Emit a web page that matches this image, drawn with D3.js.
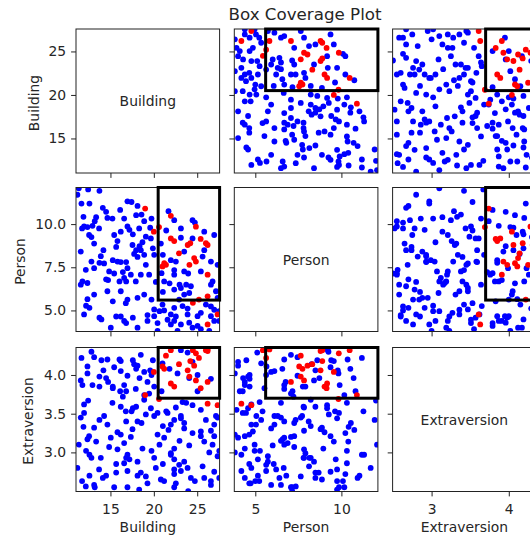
<!DOCTYPE html>
<html>
<head>
<meta charset="utf-8">
<script src="https://cdn.jsdelivr.net/npm/d3@7"></script>
<style>
  html, body { margin: 0; padding: 0; background: #fff; }
  svg { display: block; font-family: "DejaVu Sans", sans-serif; }
</style>
</head>
<body>
<svg id="chart" width="530" height="537"></svg>
<script>
// Sampled cases: one entry per case, same order in every array.
const building = [
  11.35,12.43,11.19,11.66,12.58,11.96,12.35,11.73,12.54,12.81,12.81,11.77,12.35,11.58,12.35,12.19,12.58,
  13.73,14.12,14.50,13.35,14.65,13.19,12.93,13.12,14.19,13.89,13.73,14.27,13.12,14.50,14.73,14.65,13.73,13.96,
  16.96,16.12,16.96,16.19,15.81,15.66,15.27,15.81,16.19,16.81,16.96,15.43,16.43,16.58,16.04,16.81,15.27,16.96,16.77,15.66,16.19,16.58,16.81,
  17.43,18.12,17.96,18.58,18.89,17.19,17.58,19.08,18.69,18.35,17.96,18.50,17.73,18.12,18.89,17.35,18.89,17.58,19.27,19.27,
  19.73,19.66,20.81,19.89,20.04,21.04,19.46,21.04,20.04,20.65,21.19,20.43,20.43,19.58,20.23,19.73,20.89,
  21.69,22.35,21.43,23.12,21.96,22.35,22.35,21.81,22.96,22.35,23.12,23.31,22.35,21.96,22.54,21.58,21.96,22.35,23.12,
  24.46,24.73,24.46,25.62,23.50,23.96,25.42,23.73,24.27,23.89,25.42,25.04,23.89,24.08,24.46,25.04,
  25.81,25.81,27.16,27.35,26.00,26.58,26.96,27.54,26.96,27.54,26.77,27.35,26.39,
  11.89,13.69,15.23,16.58,15.43,14.85,13.12,17.92,18.12,18.50,19.08,17.54,18.31,16.19,11.96,11.58,12.16,
  15.04,18.12,20.04,21.00,22.92,23.50,24.08,26.58,25.42,22.73,21.19,22.54,23.50,26.58,26.96,23.12,26.58,
  19.00,20.00,20.60,21.00,21.20,21.40,21.96,21.96,22.35,22.90,23.90,24.10,24.20,24.50,24.65,24.85,24.85,
  25.20,25.40,26.00,26.20,26.20,26.20,26.20,27.35
];
const person = [
  12.07,12.01,11.70,11.19,11.19,9.86,9.83,9.75,9.37,9.25,7.83,6.68,6.59,6.49,5.65,5.27,5.15,
  11.93,10.94,10.71,10.40,10.36,10.17,9.90,8.87,8.49,8.14,7.76,7.72,7.45,6.80,6.76,6.11,4.58,4.48,
  11.32,10.82,9.86,9.56,9.02,8.68,7.91,7.83,7.80,7.80,7.45,7.14,7.22,6.88,6.68,6.68,5.53,5.63,5.42,4.65,4.65,4.39,4.27,
  11.28,11.05,10.52,10.55,10.17,9.67,9.41,9.27,8.95,8.72,8.49,8.49,8.27,8.10,8.22,7.07,5.92,4.58,4.73,4.39,
  10.32,9.17,8.87,8.60,8.22,8.22,7.07,6.07,5.06,4.96,5.00,4.27,3.81,9.79,6.65,5.63,7.16,
  10.75,10.23,9.63,9.21,7.91,7.34,7.07,6.57,6.49,6.21,6.30,5.25,5.15,4.77,4.65,4.46,4.19,4.39,4.19,
  10.23,10.09,9.17,8.12,7.26,7.14,7.26,6.49,6.40,5.11,4.86,4.67,4.77,4.29,4.00,4.10,
  9.56,8.49,6.11,5.73,5.34,5.23,5.04,4.96,4.39,4.39,6.68,7.64,3.81,
  10.42,9.75,10.32,10.32,9.37,7.26,5.92,6.68,5.73,7.07,7.64,8.79,9.75,6.11,4.77,8.41,7.35,
  4.00,4.00,4.67,5.34,5.63,5.92,6.01,4.67,3.91,3.81,6.68,7.83,8.41,7.83,9.37,9.75,6.49,
  10.90,9.56,9.83,7.55,7.74,7.64,10.48,9.17,9.02,8.31,8.79,7.64,8.89,5.44,8.03,9.85,7.83,
  5.63,9.14,8.89,8.79,7.07,5.82,4.19,4.77
];
const extraversion = [
  3.10,3.67,2.80,4.22,2.97,3.51,4.02,2.63,3.21,4.30,2.93,3.87,3.17,3.45,4.11,3.02,2.70,
  3.42,2.67,3.96,3.14,4.20,2.55,3.87,3.32,4.06,2.93,3.85,3.47,4.23,2.70,3.91,3.36,3.98,4.19,
  2.97,3.79,2.55,4.18,3.26,2.74,3.85,3.04,3.59,2.93,3.99,2.55,3.72,3.12,4.20,3.40,3.83,2.76,3.53,2.85,3.23,3.87,3.79,
  3.53,2.70,4.08,3.38,3.74,2.91,4.19,3.49,3.05,3.96,3.59,2.74,4.14,3.40,3.68,3.20,4.04,3.57,2.60,3.91,
  3.02,3.57,2.65,4.19,2.93,3.34,3.76,2.85,3.47,3.10,2.63,3.51,3.23,4.06,2.80,4.00,3.79,
  3.29,2.72,3.53,4.32,2.99,3.42,2.55,4.08,3.15,2.78,3.47,3.65,2.91,3.36,2.60,3.51,2.97,3.05,2.76,
  3.25,2.63,3.61,2.82,3.38,2.50,3.21,3.64,2.67,4.29,3.27,4.00,2.80,3.96,4.17,3.79,
  3.14,2.67,3.47,2.95,3.42,2.63,3.36,3.02,3.21,2.67,3.10,3.45,3.00,
  3.33,2.78,3.64,2.86,4.10,3.07,2.58,3.82,2.88,4.26,2.69,3.30,2.52,4.05,3.62,3.93,2.56,
  3.19,4.12,3.85,4.15,2.84,3.31,3.09,3.95,3.55,4.02,3.19,3.58,2.88,3.28,2.75,3.44,2.58,
  3.74,4.04,3.69,4.11,4.08,4.25,4.32,3.89,3.85,4.14,4.06,3.98,4.18,4.32,4.12,4.28,3.93,
  4.22,3.83,4.32,4.31,3.91,4.33,3.63,3.61
];
// 1 = case of interest, 0 = other case
const outcome = [
  0,0,0,0,0,0,0,0,0,0,0,0,0,0,0,0,0,
  0,0,0,0,0,0,0,0,0,0,0,0,0,0,0,0,0,0,
  0,0,0,0,0,0,0,0,0,0,0,0,0,0,0,0,0,0,0,0,0,0,0,
  0,0,0,0,0,0,0,0,0,0,0,0,0,0,0,0,0,0,0,0,
  0,0,0,0,0,0,0,0,0,0,0,0,0,0,0,0,0,
  0,0,0,0,0,0,0,0,0,0,0,0,0,0,0,0,0,0,0,
  0,0,0,0,0,0,0,0,0,0,0,0,0,0,0,0,
  0,0,0,0,0,0,0,0,0,0,0,0,0,
  0,0,0,0,0,0,0,0,0,0,0,0,0,0,0,0,0,
  0,0,0,0,0,0,0,0,0,0,0,0,0,0,0,0,0,
  1,1,1,1,1,1,1,1,1,1,1,1,1,1,1,1,1,
  1,1,1,1,1,1,1,1
];

const dimNames = ["Building", "Person", "Extraversion"];
const dimDomains = [[11.03, 27.58], [3.78, 12.12], [2.495, 4.355]];
const xTickValues = [[15, 20, 25], [5, 10], [3, 4]];
const xTickLabels = [["15", "20", "25"], ["5", "10"], ["3", "4"]];
const yTickValues = [[15, 20, 25], [5, 7.5, 10], [3, 3.5, 4]];
const yTickLabels = [["15", "20", "25"], ["5.0", "7.5", "10.0"], ["3.0", "3.5", "4.0"]];
// Box limits per dimension
const boxLower = [20.5, 5.6, 3.7];
const boxUpper = [27.58, 12.12, 4.355];

const columns = [building, person, extraversion];
const n = building.length;

const svg = d3.select("#chart");
svg.append("rect").attr("width", 530).attr("height", 537).attr("fill", "#fff");

const colX = [76, 234.3, 392.6];
const rowY = [29, 187.5, 347.5];
const pw = 143.6, ph = 144;
const tickLen = 4.9;
const fontTick = "13.9px";
const textColor = "#262626";

// draw other cases first, cases of interest on top
const order = d3.range(n).sort((a, b) => outcome[a] - outcome[b] || a - b);

svg.append("text")
  .attr("x", 305).attr("y", 20)
  .attr("text-anchor", "middle")
  .attr("font-size", "16.7px")
  .attr("fill", textColor)
  .text("Box Coverage Plot");

for (let i = 0; i < 3; i++) {
  for (let j = 0; j < 3; j++) {
    const g = svg.append("g").attr("transform", `translate(${colX[j]},${rowY[i]})`);
    const xs = d3.scaleLinear().domain(dimDomains[j]).range([0, pw]);
    const ys = d3.scaleLinear().domain(dimDomains[i]).range([ph, 0]);

    if (i !== j) {
      const clipId = `clip-${i}-${j}`;
      g.append("clipPath").attr("id", clipId)
        .append("rect").attr("width", pw).attr("height", ph);
      g.append("g").attr("clip-path", `url(#${clipId})`)
        .selectAll("circle").data(order).join("circle")
        .attr("cx", k => xs(columns[j][k]))
        .attr("cy", k => ys(columns[i][k]))
        .attr("r", 2.9)
        .attr("fill", k => outcome[k] ? "#ff0000" : "#0000ff");
    } else {
      g.append("text")
        .attr("x", pw / 2).attr("y", ph / 2)
        .attr("text-anchor", "middle")
        .attr("dominant-baseline", "central")
        .attr("font-size", "13.9px")
        .attr("fill", textColor)
        .text(dimNames[i]);
    }

    // frame
    g.append("rect")
      .attr("width", pw).attr("height", ph)
      .attr("fill", "none").attr("stroke", "#222").attr("stroke-width", 1);

    if (i !== j) {
      g.append("rect")
        .attr("x", xs(boxLower[j]))
        .attr("y", ys(boxUpper[i]))
        .attr("width", xs(boxUpper[j]) - xs(boxLower[j]))
        .attr("height", ys(boxLower[i]) - ys(boxUpper[i]))
        .attr("fill", "none").attr("stroke", "#000").attr("stroke-width", 3);
    }

    // x axis
    const xa = g.append("g").attr("transform", `translate(0,${ph})`)
      .call(d3.axisBottom(xs).tickValues(xTickValues[j]).tickSize(tickLen)
        .tickFormat((d, k) => i === 2 ? xTickLabels[j][k] : ""));
    xa.select(".domain").remove();
    xa.selectAll("line").attr("stroke", "#222");
    xa.selectAll("text").attr("y", 22.5).attr("dy", null)
      .attr("font-size", fontTick).attr("font-family", "DejaVu Sans").attr("fill", textColor);

    // y axis
    const ya = g.append("g")
      .call(d3.axisLeft(ys).tickValues(yTickValues[i]).tickSize(tickLen).tickPadding(4.9)
        .tickFormat((d, k) => j === 0 ? yTickLabels[i][k] : ""));
    ya.select(".domain").remove();
    ya.selectAll("line").attr("stroke", "#222");
    ya.selectAll("text")
      .attr("font-size", fontTick).attr("font-family", "DejaVu Sans").attr("fill", textColor);
  }
}

// axis titles
const yTitleX = [38.5, 24.5, 33];
const yTitleY = [103, 261.5, 421];
dimNames.forEach((name, i) => {
  svg.append("text")
    .attr("transform", `translate(${yTitleX[i]},${yTitleY[i]}) rotate(-90)`)
    .attr("text-anchor", "middle")
    .attr("font-size", "13.9px")
    .attr("fill", textColor)
    .text(name);
  svg.append("text")
    .attr("x", colX[i] + pw / 2).attr("y", 532)
    .attr("text-anchor", "middle")
    .attr("font-size", "13.9px")
    .attr("fill", textColor)
    .text(name);
});
</script>
</body>
</html>
